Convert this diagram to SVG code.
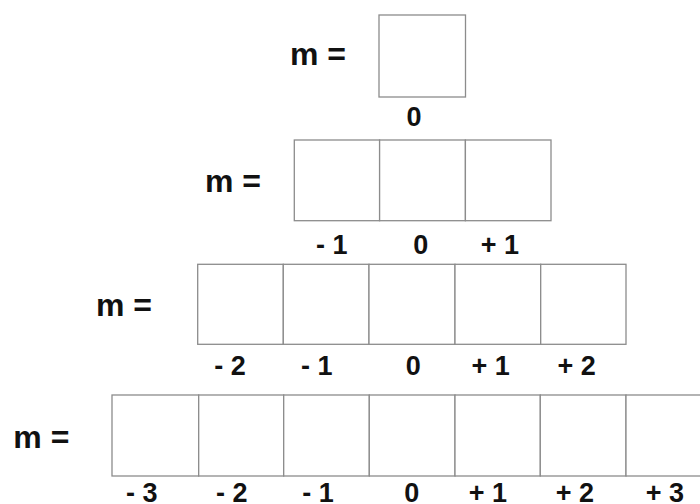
<svg xmlns="http://www.w3.org/2000/svg" width="700" height="504" viewBox="0 0 700 504">
<style>
.cell{fill:#fff;stroke:#8c8c8c;stroke-width:1.3}
.m{font-family:"Liberation Sans",Arial,sans-serif;font-weight:bold;font-size:32px;fill:#111}
.lab{font-family:"Liberation Sans",Arial,sans-serif;font-weight:bold;font-size:27px;fill:#111;text-anchor:middle}
</style>
<rect width="700" height="504" fill="#fff"/>
<g id="row1">
<text class="m" x="290" y="65">m =</text>
<rect class="cell" x="379" y="15" width="86.5" height="82"/>
<text class="lab" x="414" y="126">0</text>
</g>
<g id="row2">
<text class="m" x="205" y="192">m =</text>
<rect class="cell" x="294.3" y="140" width="85.3" height="80.7"/>
<rect class="cell" x="379.6" y="140" width="85.8" height="80.7"/>
<rect class="cell" x="465.4" y="140" width="85.6" height="80.7"/>
<text class="lab" x="331.7" y="254">- 1</text>
<text class="lab" x="420.7" y="254">0</text>
<text class="lab" x="500" y="254">+ 1</text>
</g>
<g id="row3">
<text class="m" x="96" y="316">m =</text>
<rect class="cell" x="197.7" y="264.3" width="85.6" height="80"/>
<rect class="cell" x="283.3" y="264.3" width="85.7" height="80"/>
<rect class="cell" x="369" y="264.3" width="86" height="80"/>
<rect class="cell" x="455" y="264.3" width="85.7" height="80"/>
<rect class="cell" x="540.7" y="264.3" width="85.3" height="80"/>
<text class="lab" x="230" y="375">- 2</text>
<text class="lab" x="316.7" y="375">- 1</text>
<text class="lab" x="413.3" y="375">0</text>
<text class="lab" x="490.7" y="375">+ 1</text>
<text class="lab" x="576.7" y="375">+ 2</text>
</g>
<g id="row4">
<text class="m" x="13.3" y="448">m =</text>
<rect class="cell" x="112" y="395" width="86.7" height="81"/>
<rect class="cell" x="198.7" y="395" width="85" height="81"/>
<rect class="cell" x="283.7" y="395" width="85.6" height="81"/>
<rect class="cell" x="369.3" y="395" width="85.7" height="81"/>
<rect class="cell" x="455" y="395" width="85.3" height="81"/>
<rect class="cell" x="540.3" y="395" width="85.7" height="81"/>
<rect class="cell" x="626" y="395" width="85.7" height="81"/>
<text class="lab" x="141.7" y="502">- 3</text>
<text class="lab" x="231.7" y="502">- 2</text>
<text class="lab" x="318" y="502">- 1</text>
<text class="lab" x="411.7" y="502">0</text>
<text class="lab" x="488" y="502">+ 1</text>
<text class="lab" x="575" y="502">+ 2</text>
<text class="lab" x="665" y="502">+ 3</text>
</g>
</svg>
